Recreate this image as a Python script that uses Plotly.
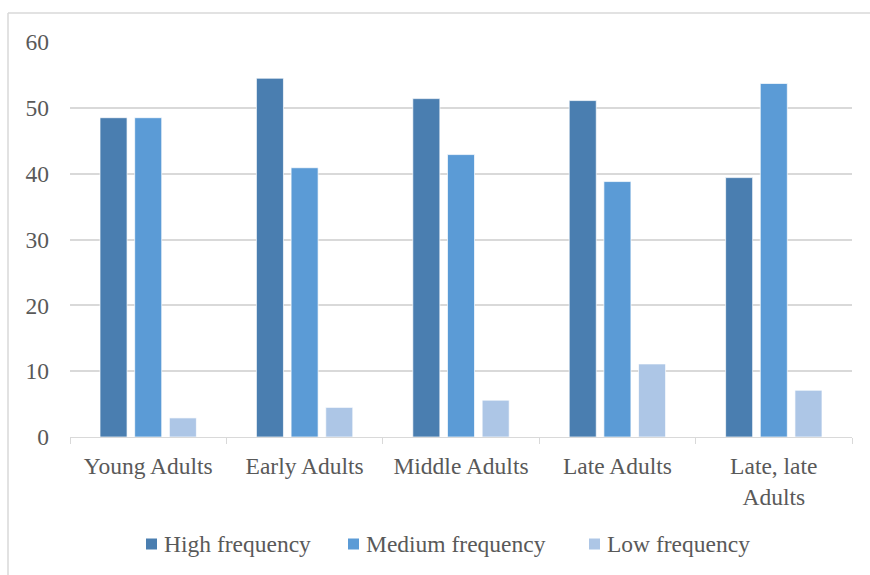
import plotly.graph_objects as go

# Age groups and share (%) by frequency level
categories = ["Young Adults", "Early Adults", "Middle Adults", "Late Adults", "Late, late<br>Adults"]
high_freq = [48.5, 54.5, 51.4, 51.1, 39.4]
medium_freq = [48.5, 40.9, 42.9, 38.8, 53.7]
low_freq = [2.9, 4.5, 5.6, 11.1, 7.1]

series_names = ["High frequency", "Medium frequency", "Low frequency"]
series_values = [high_freq, medium_freq, low_freq]
series_colors = ["#4a7eb0", "#5b9bd6", "#adc6e6"]

FONT = "Liberation Serif, Times New Roman, serif"
FSIZE = 23.5
TEXT = "#595959"
GRID = "#d9d9d9"

# Plot area in pixels (used to place the legend and chart border)
L, R, T, B = 70, 852, 42, 437
W, H = R - L, B - T


def px_x(px):
    return (px - L) / W


def px_y(py):
    return (B - py) / H


fig = go.Figure()
for name, vals, color in zip(series_names, series_values, series_colors):
    fig.add_trace(go.Bar(
        x=categories, y=vals, name=name, showlegend=False,
        marker=dict(color=color, line=dict(color="rgba(255,255,255,0.7)", width=1)),
    ))

fig.update_layout(
    width=870, height=575,
    margin=dict(l=L, r=870 - R, t=T, b=575 - B),
    paper_bgcolor="white", plot_bgcolor="white",
    barmode="group", bargap=0.335, bargroupgap=0.22,
    font=dict(family=FONT, size=FSIZE, color=TEXT),
    xaxis=dict(
        showgrid=False, showline=True, linecolor=GRID, linewidth=1,
        ticks="outside", tickson="boundaries", ticklen=6, tickcolor=GRID,
        tickfont=dict(family=FONT, size=FSIZE, color=TEXT),
        ticklabelstandoff=8,
    ),
    yaxis=dict(
        range=[0, 60], dtick=10, showgrid=True, gridcolor=GRID, gridwidth=1.5,
        zeroline=False, showline=False, ticks="",
        tickfont=dict(family=FONT, size=FSIZE, color=TEXT),
        ticklabelstandoff=20,
    ),
)

# Legend: colour swatch followed by series name
legend_swatch_x = [146, 348, 589]
legend_y = 544
for name, color, sx in zip(series_names, series_colors, legend_swatch_x):
    fig.add_shape(type="rect", xref="paper", yref="paper",
                  x0=px_x(sx), x1=px_x(sx + 11),
                  y0=px_y(legend_y + 5.5), y1=px_y(legend_y - 5.5),
                  fillcolor=color, line=dict(width=0))
    fig.add_annotation(xref="paper", yref="paper", x=px_x(sx + 16), y=px_y(legend_y),
                       xanchor="left", yanchor="middle", showarrow=False,
                       text=name, font=dict(family=FONT, size=FSIZE, color=TEXT))

# Chart-area border (top and left edges)
fig.add_shape(type="line", xref="paper", yref="paper",
              x0=px_x(8), x1=px_x(900), y0=px_y(13), y1=px_y(13),
              line=dict(color=GRID, width=1.5))
fig.add_shape(type="line", xref="paper", yref="paper",
              x0=px_x(8), x1=px_x(8), y0=px_y(13), y1=px_y(600),
              line=dict(color=GRID, width=1.5))

fig.write_html("out.html")
